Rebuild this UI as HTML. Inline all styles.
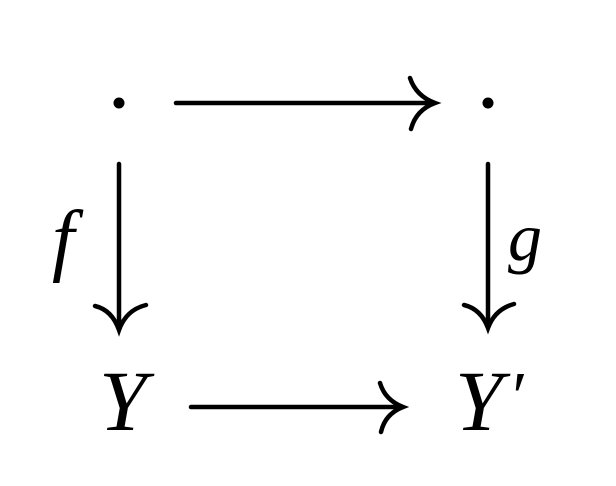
<!DOCTYPE html>
<html><head><style>html,body{margin:0;padding:0;background:#fff;}svg{display:block}</style></head>
<body>
<svg width="616" height="486" viewBox="0 0 616 486" xmlns="http://www.w3.org/2000/svg">
<rect width="616" height="486" fill="#fff"/>
<g stroke="#000" stroke-width="4.5" fill="none" stroke-linecap="round">
<line x1="176" y1="103" x2="434" y2="103"/>
<path d="M410 78 Q416 96 435 103 Q416 110 411 129"/>
<line x1="119" y1="164" x2="119" y2="329"/>
<path d="M95 306 Q112 310 119 330 Q126 310 146 305"/>
<line x1="488" y1="164" x2="488" y2="327"/>
<path d="M464 305 Q481 309 488 328 Q495 309 514 304"/>
<line x1="191" y1="407" x2="402" y2="407"/>
<path d="M380 383 Q385 400 403 407 Q385 414 381 432"/>
</g>
<circle cx="119" cy="103" r="5.5" fill="#000"/>
<circle cx="488" cy="103" r="5.5" fill="#000"/>
<g font-family="Liberation Serif, serif" font-style="italic" fill="#000">
<text x="99" y="430" font-size="86">Y</text>
<text x="455" y="430" font-size="86">Y</text>
<text x="508" y="420" font-size="70">′</text>
<text x="52" y="266" font-size="80">f</text>
<text x="508" y="260" font-size="68">g</text>
</g>
</svg>
</body></html>
